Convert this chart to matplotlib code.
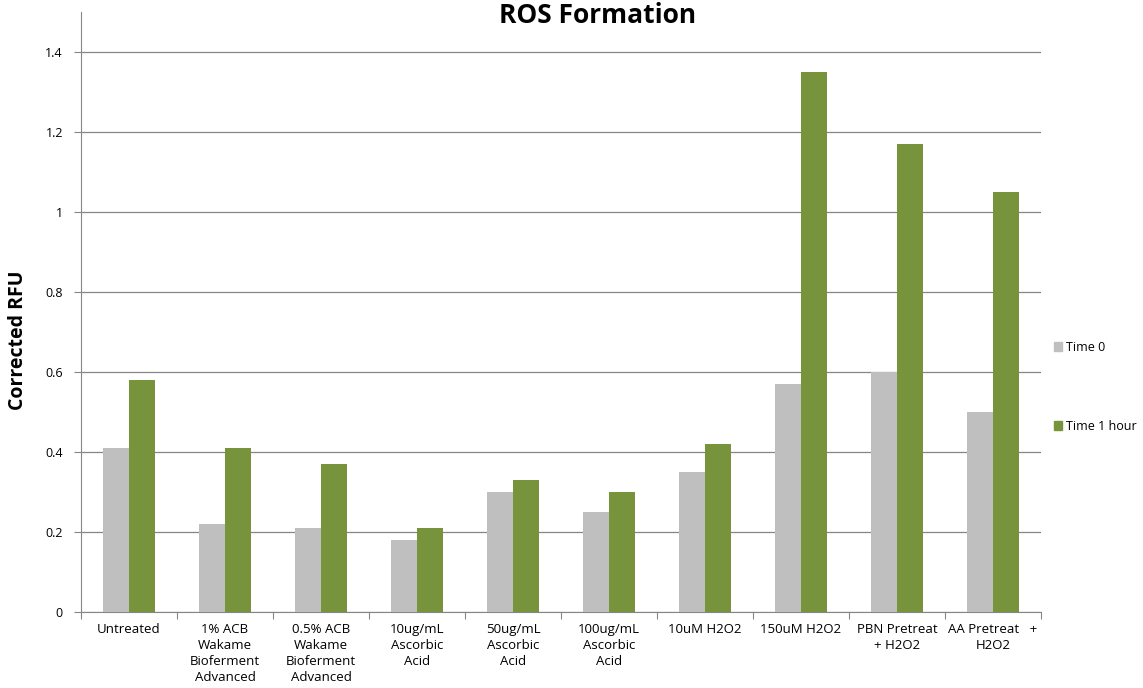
import numpy as np
import matplotlib
matplotlib.use('Agg')
import matplotlib.pyplot as plt
from matplotlib.patches import Patch

categories = ['Untreated', '1% ACB\nWakame\nBioferment\nAdvanced', '0.5% ACB\nWakame\nBioferment\nAdvanced',
              '10ug/mL\nAscorbic\nAcid', '50ug/mL\nAscorbic\nAcid', '100ug/mL\nAscorbic\nAcid',
              '10uM H2O2', '150uM H2O2', 'PBN Pretreat\n+ H2O2', 'AA Pretreat   +\nH2O2']
time0 = [0.41, 0.22, 0.21, 0.18, 0.30, 0.25, 0.35, 0.57, 0.60, 0.50]
time1h = [0.58, 0.41, 0.37, 0.21, 0.33, 0.30, 0.42, 1.35, 1.17, 1.05]
yticks = [0, 0.2, 0.4, 0.6, 0.8, 1, 1.2, 1.4]
ytick_labels = ['0', '0.2', '0.4', '0.6', '0.8', '1', '1.2', '1.4']

plt.rcParams['font.family'] = ['Open Sans', 'DejaVu Sans']

fig = plt.figure(figsize=(11.43, 6.88), dpi=100)
ax = fig.add_axes([0.0709, 0.1105, 0.8399, 0.8721])

ind = np.arange(len(categories))
width = 0.27
grey = '#BFBFBF'
green = '#77933C'
ax.bar(ind - width / 2, time0, width, color=grey, zorder=3)
ax.bar(ind + width / 2, time1h, width, color=green, zorder=3)

ax.set_xlim(-0.5, len(categories) - 0.5)
ax.set_ylim(0, 1.5)
ax.set_yticks(yticks)
ax.set_yticklabels(ytick_labels, fontsize=9)
ax.yaxis.grid(True, color='#868686', linewidth=0.9, zorder=0)

# x ticks at category boundaries, labels centered in between
ax.set_xticks(np.arange(len(categories) + 1) - 0.5)
ax.set_xticklabels([])
ax.set_xticks(ind, minor=True)
ax.set_xticklabels(categories, minor=True, fontsize=9.5, linespacing=1.3)
ax.tick_params(axis='x', which='major', length=5, color='#868686')
ax.tick_params(axis='x', which='minor', length=0, pad=8)
ax.tick_params(axis='y', length=5, color='#868686', pad=8)

for s in ['top', 'right']:
    ax.spines[s].set_visible(False)
for s in ['left', 'bottom']:
    ax.spines[s].set_color('#868686')

fig.text(0.016, 0.505, 'Corrected RFU', fontsize=14, fontweight='bold', rotation=90,
         ha='center', va='center')
fig.text(0.523, 0.978, 'ROS Formation', fontsize=19, fontweight='bold', ha='center', va='center')

handles = [Patch(color=grey), Patch(color=green)]
ax.legend(handles, ['Time 0', 'Time 1 hour'], loc='center left', bbox_to_anchor=(1.0, 0.375),
          frameon=False, fontsize=9, handlelength=0.7, handleheight=0.7, handletextpad=0.3,
          labelspacing=5.3, borderaxespad=0.6)

plt.savefig('out.png', dpi=100)
